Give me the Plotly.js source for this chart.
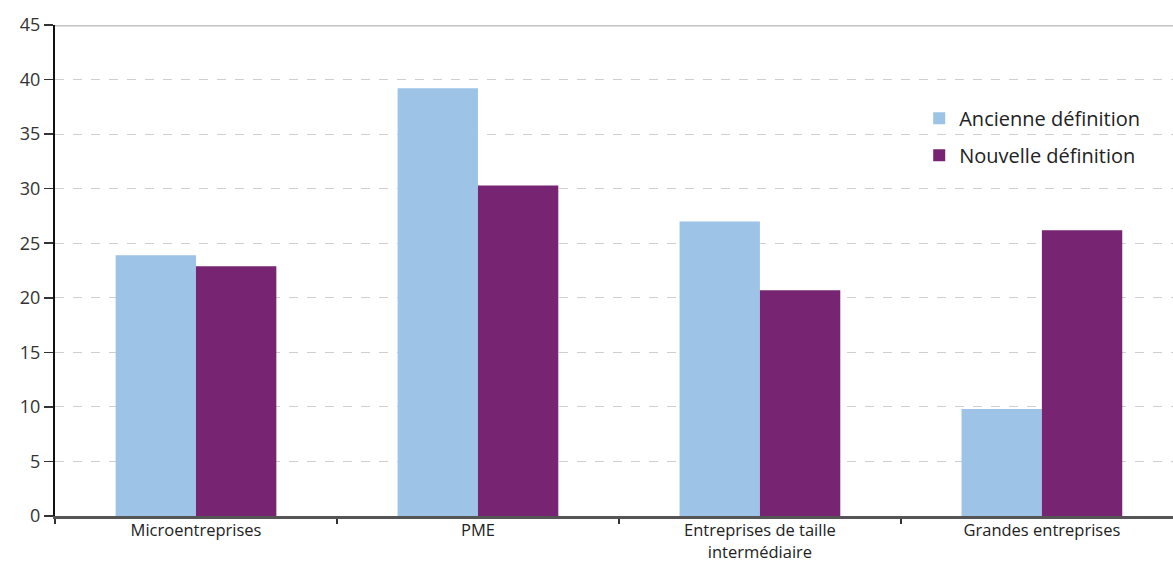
<!DOCTYPE html>
<html>
<head>
<meta charset="utf-8">
<script src="https://cdn.plot.ly/plotly-3.0.1.min.js"></script>
<style>html,body{margin:0;padding:0;background:#fff;}#chart{width:1173px;height:568px;}</style>
</head>
<body>
<div id="chart"></div>
<script>
const categories = ["Microentreprises", "PME", "Entreprises de taille<br>intermédiaire", "Grandes entreprises"];
const ancienneDefinition = [23.9, 39.2, 27.0, 9.8];
const nouvelleDefinition = [22.9, 30.3, 20.7, 26.2];
const seriesNames = ["Ancienne définition", "Nouvelle définition"];

const fontFam = "'Open Sans', sans-serif";

const traces = [
  {type: "bar", x: categories, y: ancienneDefinition, name: seriesNames[0],
   marker: {color: "#9DC3E7"}, legendgroup: "a"},
  {type: "bar", x: categories, y: nouvelleDefinition, name: seriesNames[1],
   marker: {color: "#772473"}, legendgroup: "b"}
];

const layout = {
  width: 1173, height: 568,
  margin: {l: 55, r: 0, t: 25, b: 52},
  paper_bgcolor: "#fff", plot_bgcolor: "#fff",
  barmode: "group", bargap: 0.43, bargroupgap: 0,
  font: {family: fontFam, color: "#222", size: 17},
  xaxis: {
    type: "category", range: [-0.5, 3.465],
    tickson: "boundaries", ticks: "outside", ticklen: 5, tickcolor: "#333", tickwidth: 1.5,
    showline: true, linecolor: "#555", linewidth: 2.5,
    showgrid: false, tickfont: {size: 16.5, color: "#222", family: fontFam},
    ticklabelstandoff: -2
  },
  yaxis: {
    range: [0, 45], dtick: 5, tick0: 0,
    ticks: "outside", ticklen: 9, tickcolor: "#333", tickwidth: 1.5,
    showline: true, linecolor: "#111", linewidth: 2,
    showgrid: true, gridcolor: "#cfcfcf", griddash: "dash", gridwidth: 1,
    zeroline: false, ticklabelstandoff: 0,
    tickfont: {size: 18, color: "#333", family: fontFam}
  },
  legend: {
    x: 0.773, y: 0.85, xanchor: "left", yanchor: "top",
    bgcolor: "rgba(255,255,255,0)", traceorder: "grouped", tracegroupgap: 8,
    font: {size: 20, color: "#222", family: fontFam},
    itemwidth: 30
  },
  shapes: [
    {type: "line", xref: "paper", yref: "y", x0: 0, x1: 1, y0: 45, y1: 45,
     line: {color: "#c4c4c4", width: 3}}
  ],
  showlegend: true
};

Plotly.newPlot("chart", traces, layout, {displayModeBar: false, staticPlot: true});
</script>
</body>
</html>
